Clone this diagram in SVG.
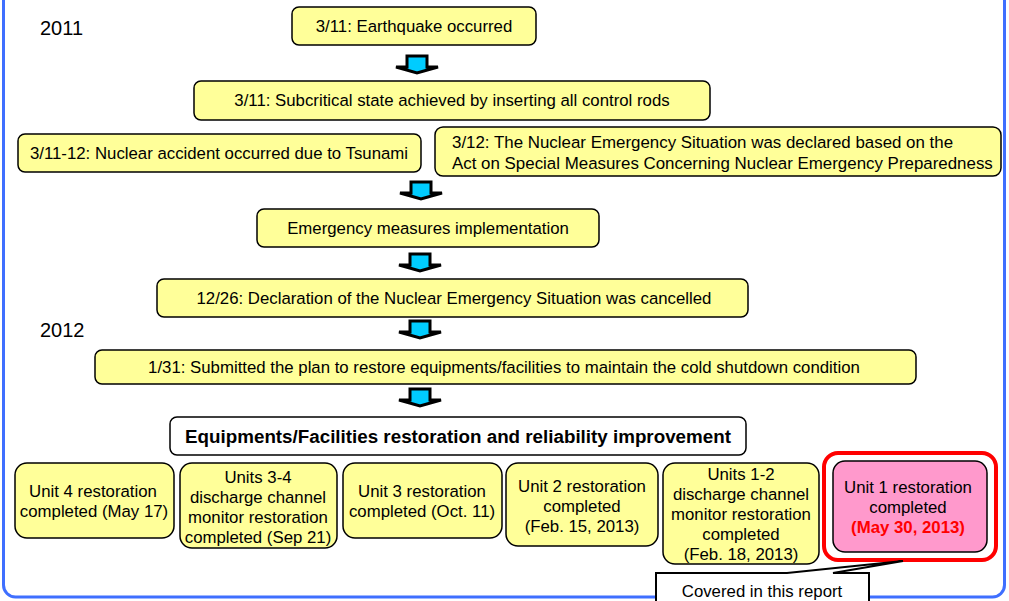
<svg xmlns="http://www.w3.org/2000/svg" width="1009" height="601" viewBox="0 0 1009 601">
<style>
.bx{fill:#FFFF99;stroke:#000;stroke-width:1.5}
.wb{fill:#FFFFFF;stroke:#000;stroke-width:1.5}
.pk{fill:#FF99CC;stroke:#000;stroke-width:1.5}
.t{font-family:"Liberation Sans",Arial,sans-serif;font-size:16.8px;fill:#000;text-anchor:middle}
.tl{font-family:"Liberation Sans",Arial,sans-serif;font-size:16.9px;fill:#000}
.yr{font-family:"Liberation Sans",Arial,sans-serif;font-size:20px;fill:#000}
.b{font-weight:bold;font-size:18.8px}
.red{fill:#FF0000;font-weight:bold}
.ar{fill:#00CCFF;stroke:#000;stroke-width:3;stroke-linejoin:miter}
</style>
<rect width="1009" height="601" fill="#FFFFFF"/>
<rect x="3.5" y="-20" width="1001" height="617" rx="12" fill="none" stroke="#3F6FFF" stroke-width="3"/>
<text class="yr" x="40" y="35">2011</text>
<text class="yr" x="40" y="337">2012</text>
<g id="connectors">
<path class="ar" d="M407,56 H427 V67 H438 L417,73 L396,67 H407 Z"/>
<path class="ar" d="M411,182 H431 V193 H442 L421,199 L400,193 H411 Z"/>
<path class="ar" d="M410,254 H430 V265 H441 L420,271 L399,265 H410 Z"/>
<path class="ar" d="M410,321 H430 V332 H441 L420,338 L399,332 H410 Z"/>
<path class="ar" d="M410,389 H430 V400 H441 L420,406 L399,400 H410 Z"/>
</g>
<g id="n1"><rect class="bx" x="292" y="7" width="244" height="38" rx="7"/><text class="t" x="414" y="32">3/11: Earthquake occurred</text></g>
<g id="n2"><rect class="bx" x="194" y="81" width="516" height="39" rx="7"/><text class="t" x="452" y="106">3/11: Subcritical state achieved by inserting all control rods</text></g>
<g id="n3"><rect class="bx" x="18" y="134" width="403" height="38" rx="7"/><text class="t" x="219" y="159">3/11-12: Nuclear accident occurred due to Tsunami</text></g>
<g id="n4"><rect class="bx" x="435" y="127" width="566" height="49" rx="8"/><text class="tl" x="452" y="148">3/12: The Nuclear Emergency Situation was declared based on the</text><text class="tl" x="452" y="169">Act on Special Measures Concerning Nuclear Emergency Preparedness</text></g>
<g id="n5"><rect class="bx" x="257" y="209" width="342" height="38" rx="7"/><text class="t" x="428" y="234">Emergency measures implementation</text></g>
<g id="n6"><rect class="bx" x="157" y="279" width="591" height="38" rx="7"/><text class="t" x="454" y="304">12/26: Declaration of the Nuclear Emergency Situation was cancelled</text></g>
<g id="n7"><rect class="bx" x="95" y="350" width="821" height="34" rx="7"/><text class="t" x="504" y="373">1/31: Submitted the plan to restore equipments/facilities to maintain the cold shutdown condition</text></g>
<g id="n8"><rect class="wb" x="170" y="417" width="576" height="38" rx="7"/><text class="t b" x="458" y="443">Equipments/Facilities restoration and reliability improvement</text></g>
<g id="u4"><rect class="bx" x="15" y="463" width="159" height="75" rx="12"/><text class="t" x="93" y="497">Unit 4 restoration</text><text class="t" x="94" y="517">completed (May 17)</text></g>
<g id="u34"><rect class="bx" x="180" y="463" width="157" height="85" rx="12"/><text class="t" x="258" y="483">Units 3-4</text><text class="t" x="258" y="503">discharge channel</text><text class="t" x="258" y="523">monitor restoration</text><text class="t" x="258" y="543">completed (Sep 21)</text></g>
<g id="u3"><rect class="bx" x="343" y="463" width="159" height="75" rx="12"/><text class="t" x="422" y="497">Unit 3 restoration</text><text class="t" x="422" y="517">completed (Oct. 11)</text></g>
<g id="u2"><rect class="bx" x="506" y="463" width="152" height="83" rx="12"/><text class="t" x="582" y="492">Unit 2 restoration</text><text class="t" x="582" y="512">completed</text><text class="t" x="582" y="532">(Feb. 15, 2013)</text></g>
<g id="u12"><rect class="bx" x="663" y="463" width="156" height="101" rx="12"/><text class="t" x="741" y="480">Units 1-2</text><text class="t" x="741" y="500">discharge channel</text><text class="t" x="741" y="520">monitor restoration</text><text class="t" x="741" y="540">completed</text><text class="t" x="741" y="560">(Feb. 18, 2013)</text></g>
<g id="u1"><rect x="824" y="453" width="172" height="107" rx="14" fill="none" stroke="#FF0000" stroke-width="4"/><rect class="pk" x="833" y="461" width="154" height="91" rx="12"/><text class="t" x="908" y="493">Unit 1 restoration</text><text class="t" x="908" y="513">completed</text><text class="t red" x="908" y="533">(May 30, 2013)</text></g>
<g id="callout"><path d="M656,612 V573 H787 L903,561 L833,573 H869 V612" fill="#FFFFFF" stroke="#000" stroke-width="2"/><text class="t" x="762" y="597">Covered in this report</text></g>
</svg>
